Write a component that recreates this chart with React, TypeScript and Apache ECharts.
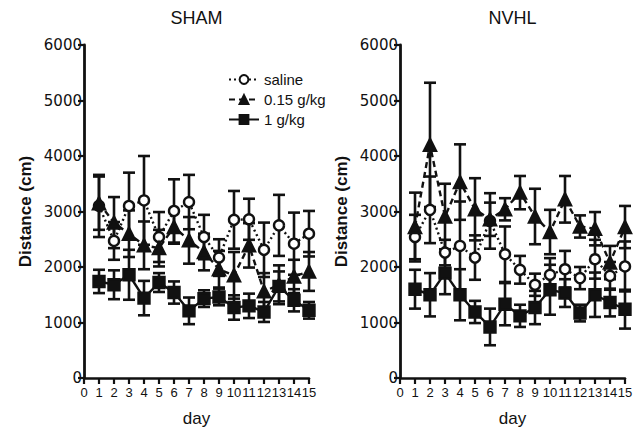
import React, { useEffect, useRef } from "react";
import * as echarts from "echarts";

const days = [1, 2, 3, 4, 5, 6, 7, 8, 9, 10, 11, 12, 13, 14, 15];
const seriesNames = ["saline", "0.15 g/kg", "1 g/kg"];
const panelTitles = ["SHAM", "NVHL"];
const yTicks = [0, 1000, 2000, 3000, 4000, 5000, 6000];

const shamSaline = [3100, 2470, 3100, 3200, 2540, 3010, 3170, 2540, 2170, 2850, 2860, 2310, 2750, 2420, 2600];
const shamSalineErr = [560, 340, 600, 800, 450, 570, 490, 400, 330, 520, 370, 490, 550, 560, 410];
const shamLow = [3150, 2800, 2600, 2390, 2340, 2720, 2480, 2270, 1960, 1850, 2390, 1560, 1680, 1830, 1920];
const shamLowErr = [480, 460, 420, 430, 330, 300, 420, 330, 330, 420, 400, 330, 350, 300, 350];
const shamHigh = [1740, 1680, 1860, 1440, 1720, 1540, 1210, 1430, 1460, 1270, 1300, 1190, 1650, 1400, 1220];
const shamHighErr = [210, 260, 450, 310, 170, 200, 240, 150, 150, 220, 220, 180, 270, 200, 150];

const nvhlSaline = [2540, 3030, 2260, 2380, 2170, 2830, 2230, 1950, 1680, 1860, 1960, 1800, 2140, 1840, 2010];
const nvhlSalineErr = [400, 600, 230, 800, 400, 500, 500, 250, 200, 300, 330, 200, 350, 250, 450];
const nvhlLow = [2720, 4200, 2910, 3530, 3040, 2860, 3040, 3340, 2910, 2630, 3220, 2730, 2690, 2080, 2720];
const nvhlLowErr = [620, 1120, 590, 680, 560, 300, 200, 300, 500, 400, 420, 200, 300, 300, 380];
const nvhlHigh = [1600, 1500, 1890, 1500, 1190, 920, 1330, 1120, 1270, 1590, 1530, 1170, 1500, 1360, 1240];
const nvhlHighErr = [350, 390, 380, 460, 200, 330, 380, 200, 300, 450, 250, 150, 400, 250, 350];

const FONT = "Liberation Sans, Arial, Helvetica, sans-serif";
const WIDE = "DejaVu Sans, Liberation Sans, sans-serif";
const INK = "#111111";

const panels = [
  { means: [shamSaline, shamLow, shamHigh], errs: [shamSalineErr, shamLowErr, shamHighErr] },
  { means: [nvhlSaline, nvhlLow, nvhlHigh], errs: [nvhlSalineErr, nvhlLowErr, nvhlHighErr] },
];

const styles = [
  { symbol: "circle", size: 10, lineType: [2, 3] as any, fill: "#ffffff" },
  { symbol: "triangle", size: 12, lineType: [6, 4] as any, fill: INK },
  { symbol: "rect", size: 11, lineType: "solid" as any, fill: INK },
];

function errorRender(params: any, api: any) {
  const x = api.value(0);
  const lo = api.value(1);
  const hi = api.value(2);
  const pLo = api.coord([x, lo]);
  const pHi = api.coord([x, hi]);
  const hw = 6;
  const st = { stroke: INK, lineWidth: 2.6 };
  return {
    type: "group",
    children: [
      { type: "line", shape: { x1: pLo[0], y1: pLo[1], x2: pHi[0], y2: pHi[1] }, style: st },
      { type: "line", shape: { x1: pLo[0] - hw, y1: pLo[1], x2: pLo[0] + hw, y2: pLo[1] }, style: st },
      { type: "line", shape: { x1: pHi[0] - hw, y1: pHi[1], x2: pHi[0] + hw, y2: pHi[1] }, style: st },
    ],
  };
}

export default function App() {
  const ref = useRef<HTMLDivElement>(null);
  useEffect(() => {
    if (!ref.current) return;
    const chart = echarts.init(ref.current, null, { renderer: "svg" });
    const grids = [
      { left: 84, top: 45, width: 225, height: 338 },
      { left: 400, top: 45, width: 225, height: 338 },
    ];
    const xAxes = grids.map((_, i) => ({
      type: "value",
      gridIndex: i,
      min: 0,
      max: 15,
      interval: 1,
      name: "day",
      nameLocation: "middle",
      nameGap: 32,
      nameTextStyle: { fontSize: 17, color: INK, fontFamily: FONT },
      axisLine: { show: true, lineStyle: { color: INK, width: 2.5 } },
      axisTick: { show: true, length: 6, lineStyle: { color: INK, width: 2.2 } },
      axisLabel: { interval: 0, fontSize: 13, color: INK, fontFamily: FONT, margin: 8, hideOverlap: false },
      splitLine: { show: false },
    }));
    const yAxes = grids.map((_, i) => ({
      type: "value",
      gridIndex: i,
      min: yTicks[0],
      max: yTicks[yTicks.length - 1],
      interval: 1000,
      name: "Distance (cm)",
      nameLocation: "middle",
      nameGap: 50,
      nameTextStyle: { fontSize: 17, fontWeight: "bold", color: INK, fontFamily: FONT },
      axisLine: { show: true, lineStyle: { color: INK, width: 2.8 } },
      axisTick: { show: true, length: 6, lineStyle: { color: INK, width: 2.2 } },
      axisLabel: { fontSize: 15, color: INK, fontFamily: WIDE, margin: 2, formatter: (v: number) => String(v) },
      splitLine: { show: false },
    }));
    const series: any[] = [];
    panels.forEach((p, pi) => {
      p.means.forEach((m, si) => {
        series.push({
          type: "custom",
          xAxisIndex: pi,
          yAxisIndex: pi,
          renderItem: errorRender,
          encode: { x: 0, y: [1, 2] },
          data: days.map((d, k) => [d, m[k] - p.errs[si][k], m[k] + p.errs[si][k]]),
          z: 1,
          silent: true,
        });
      });
      p.means.forEach((m, si) => {
        const s = styles[si];
        series.push({
          type: "line",
          name: seriesNames[si],
          xAxisIndex: pi,
          yAxisIndex: pi,
          data: days.map((d, k) => [d, m[k]]),
          symbol: s.symbol,
          symbolSize: s.size,
          showAllSymbol: true,
          lineStyle: { color: INK, width: 2.4, type: s.lineType },
          itemStyle: { color: s.fill, borderColor: INK, borderWidth: 2.4 },
          z: 3,
        });
      });
    });
    chart.setOption({
      animation: false,
      backgroundColor: "#ffffff",
      textStyle: { fontFamily: FONT },
      grid: grids,
      xAxis: xAxes,
      yAxis: yAxes,
      legend: {
        data: seriesNames,
        orient: "vertical",
        left: 223,
        top: 67,
        itemWidth: 30,
        itemHeight: 11,
        itemGap: 5,
        textStyle: { fontSize: 15, color: INK, fontFamily: FONT },
      },
      graphic: panelTitles.map((t, i) => ({
        type: "text",
        x: grids[i].left + grids[i].width / 2,
        y: 18,
        style: {
          text: t,
          fontSize: 18,
          fill: INK,
          fontFamily: FONT,
          textAlign: "center",
          textVerticalAlign: "middle",
          align: "center",
          verticalAlign: "middle",
        },
      })),
      series,
    });
    return () => chart.dispose();
  }, []);
  return (
    <div
      ref={ref}
      style={{ position: "absolute", left: 0, top: 0, width: 641, height: 432, background: "#fff" }}
    />
  );
}
